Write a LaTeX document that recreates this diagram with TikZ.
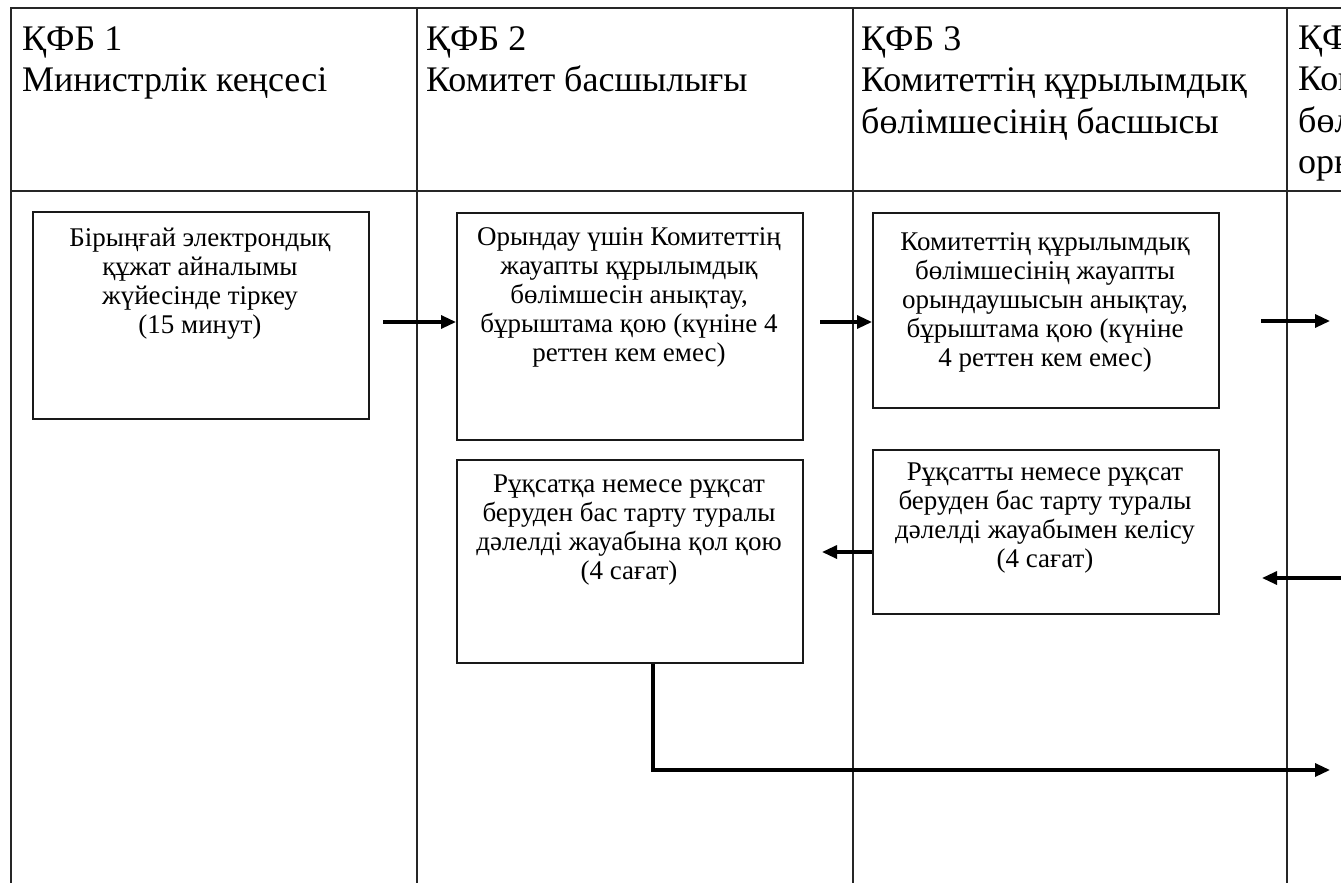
\documentclass[tikz,border=0pt]{standalone}
\usepackage{fontspec}
\setmainfont{Liberation Serif}
\usetikzlibrary{arrows.meta}
\begin{document}
\begin{tikzpicture}[x=1pt,y=-1pt,
  frame/.style={line width=1.7pt, draw=black!85},
  stepbox/.style={draw=black!90, line width=1.7pt, anchor=north west, inner sep=0pt},
  boxtxt/.style={align=center, anchor=base, inner sep=0pt, font=\fontsize{27}{29}\selectfont},
  headtxt/.style={align=left, anchor=base west, inner sep=0pt, font=\fontsize{36}{41.5}\selectfont},
  arr/.style={line width=3.2pt, -{Triangle[length=15pt,width=13pt]}}]
\useasboundingbox (0,0) rectangle (1341,883);
\clip (0,0) rectangle (1341,883);
% table frame
\draw[frame] (11,883) -- (11,8) -- (1345,8);
\draw[frame] (11,191) -- (1345,191);
\draw[frame] (417,8) -- (417,883);
\draw[frame] (853,8) -- (853,883);
\draw[frame] (1287,8) -- (1287,883);
% headers (anchor = baseline of the last line)
\node[headtxt] (h1) at (22,92) {ҚФБ 1\\Министрлік кеңсесі};
\node[headtxt] (h2) at (426,92) {ҚФБ 2\\Комитет басшылығы};
\node[headtxt] (h3) at (861,133) {ҚФБ 3\\Комитеттің құрылымдық\\бөлімшесінің басшысы};
\node[headtxt] (h4) at (1298,173.5) {ҚФБ 4\\Комитеттің құрылымдық\\бөлімшесінің жауапты\\орындаушысы};
% boxes
\node[stepbox, minimum width=336pt, minimum height=207pt] (b1) at (32,211) {};
\node[stepbox, minimum width=346pt, minimum height=227pt] (b2) at (456,212) {};
\node[stepbox, minimum width=346pt, minimum height=195pt] (b3) at (872,212) {};
\node[stepbox, minimum width=346pt, minimum height=203pt] (b4) at (456,459) {};
\node[stepbox, minimum width=346pt, minimum height=164pt] (b5) at (872,449) {};
% box texts (anchor = baseline of the last line)
\node[boxtxt] (t1) at (200,333) {Бірыңғай электрондық\\құжат айналымы\\жүйесінде тіркеу\\(15 минут)};
\node[boxtxt] (t2) at (629,361) {Орындау үшін Комитеттің\\жауапты құрылымдық\\бөлімшесін анықтау,\\бұрыштама қою (күніне 4\\реттен кем емес)};
\node[boxtxt] (t3) at (1045,366) {Комитеттің құрылымдық\\бөлімшесінің жауапты\\орындаушысын анықтау,\\бұрыштама қою (күніне\\4 реттен кем емес)};
\node[boxtxt] (t4) at (629,579) {Рұқсатқа немесе рұқсат\\беруден бас тарту туралы\\дәлелді жауабына қол қою\\(4 сағат)};
\node[boxtxt] (t5) at (1045,567) {Рұқсатты немесе рұқсат\\беруден бас тарту туралы\\дәлелді жауабымен келісу\\(4 сағат)};
% connectors
\coordinate (c1) at (383,322);
\draw[arr] (c1) -- (c1 -| b2.west);
\coordinate (c2) at (820,322);
\draw[arr] (c2) -- (c2 -| b3.west);
\coordinate (c3s) at (1261,321);
\coordinate (c3e) at (1330,321);
\draw[arr] (c3s) -- (c3e);
\coordinate (c4s) at (1345,578);
\coordinate (c4e) at (1262,578);
\draw[arr] (c4s) -- (c4e);
\coordinate (c5) at (822,552);
\draw[arr] (c5 -| b5.west) -- (c5);
\coordinate (c6) at (653,770);
\coordinate (c6e) at (1330,770);
\draw[arr] (c6 |- b4.south) -- (c6) -- (c6e);
\end{tikzpicture}
\end{document}
